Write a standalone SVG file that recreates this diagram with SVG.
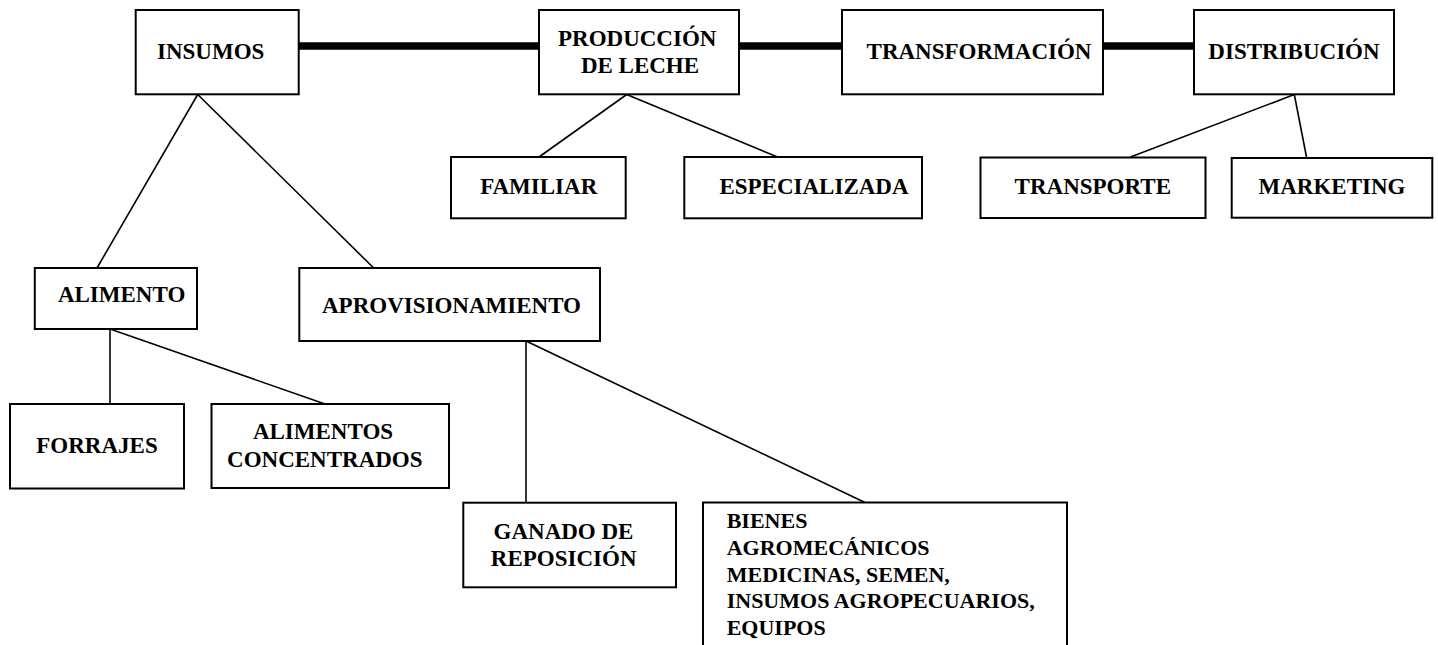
<svg xmlns="http://www.w3.org/2000/svg" width="1438" height="645" viewBox="0 0 1438 645">
<style>
.box{fill:#fff;stroke:#000;stroke-width:2}
.t{font-family:"Liberation Serif","Times New Roman",serif;font-weight:bold;font-size:23px;fill:#000;text-anchor:middle}
.tl{font-family:"Liberation Serif","Times New Roman",serif;font-weight:bold;font-size:22px;fill:#000}
.thin{stroke:#000;stroke-width:1.6;fill:none}
.thick{stroke:#000;stroke-width:7.5;fill:none}
</style>
<rect width="1438" height="645" fill="#fff"/>
<g id="connectors">
<line class="thick" x1="299" y1="46" x2="539" y2="46"/>
<line class="thick" x1="739" y1="46" x2="842" y2="46"/>
<line class="thick" x1="1103" y1="46" x2="1194" y2="46"/>
<line class="thin" x1="197.7" y1="94.5" x2="97" y2="268"/>
<line class="thin" x1="197.7" y1="94.5" x2="373.7" y2="268"/>
<line class="thin" x1="626.7" y1="94.5" x2="539" y2="157"/>
<line class="thin" x1="626.7" y1="94.5" x2="777.6" y2="157"/>
<line class="thin" x1="1294.3" y1="94.5" x2="1130.5" y2="157"/>
<line class="thin" x1="1294.3" y1="94.5" x2="1306.7" y2="158"/>
<line class="thin" x1="110" y1="329" x2="110" y2="404"/>
<line class="thin" x1="110" y1="329" x2="325" y2="404"/>
<line class="thin" x1="526" y1="341" x2="526" y2="502.7"/>
<line class="thin" x1="526" y1="341" x2="865" y2="502.5"/>
</g>
<g id="insumos"><rect class="box" x="135.7" y="10" width="163" height="84.3"/><text class="t" x="210.7" y="59.3">INSUMOS</text></g>
<g id="produccion"><rect class="box" x="539" y="10" width="200" height="84.3"/><text class="t" x="637.2" y="45.7">PRODUCCIÓN</text><text class="t" x="640" y="73.3">DE LECHE</text></g>
<g id="transformacion"><rect class="box" x="842" y="10" width="261" height="84.3"/><text class="t" x="979" y="59">TRANSFORMACIÓN</text></g>
<g id="distribucion"><rect class="box" x="1194" y="10" width="200" height="84.3"/><text class="t" x="1294" y="59">DISTRIBUCIÓN</text></g>
<g id="familiar"><rect class="box" x="451" y="157" width="174.7" height="61.3"/><text class="t" x="538.7" y="194">FAMILIAR</text></g>
<g id="especializada"><rect class="box" x="684.3" y="157" width="237.7" height="61.3"/><text class="t" x="814" y="194">ESPECIALIZADA</text></g>
<g id="transporte"><rect class="box" x="980.5" y="157.5" width="225" height="60.5"/><text class="t" x="1092.8" y="194">TRANSPORTE</text></g>
<g id="marketing"><rect class="box" x="1231.7" y="158" width="200.6" height="59.7"/><text class="t" x="1332" y="193.5">MARKETING</text></g>
<g id="alimento"><rect class="box" x="34.8" y="268" width="162.2" height="61"/><text class="t" x="121.6" y="301.7">ALIMENTO</text></g>
<g id="aprovisionamiento"><rect class="box" x="299.3" y="268" width="300.7" height="73"/><text class="t" x="451.5" y="313">APROVISIONAMIENTO</text></g>
<g id="forrajes"><rect class="box" x="10" y="404" width="174" height="84.5"/><text class="t" x="97" y="452.7">FORRAJES</text></g>
<g id="alimentos-concentrados"><rect class="box" x="211.5" y="404" width="237.5" height="84"/><text class="t" x="323" y="439">ALIMENTOS</text><text class="t" x="324.8" y="466.7">CONCENTRADOS</text></g>
<g id="ganado"><rect class="box" x="463.3" y="502.7" width="212.7" height="84.6"/><text class="t" x="563.5" y="539.3">GANADO DE</text><text class="t" x="563.7" y="566">REPOSICIÓN</text></g>
<g id="bienes"><rect class="box" x="703" y="502.5" width="364" height="160"/>
<text class="tl" x="726.7" y="528.3">BIENES</text>
<text class="tl" x="726.7" y="555">AGROMECÁNICOS</text>
<text class="tl" x="726.7" y="581.7">MEDICINAS, SEMEN,</text>
<text class="tl" x="726.7" y="608.3">INSUMOS AGROPECUARIOS,</text>
<text class="tl" x="726.7" y="635">EQUIPOS</text></g>
</svg>
